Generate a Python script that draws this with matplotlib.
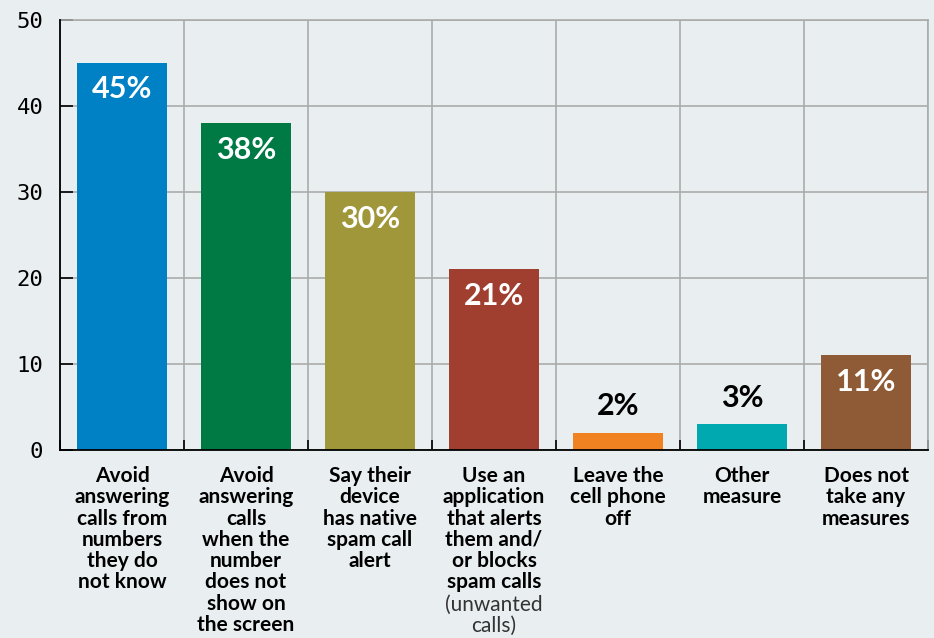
import matplotlib.pyplot as plt
import matplotlib.transforms as mtransforms

# Data
CATEGORIES = [
    "Avoid\nanswering\ncalls from\nnumbers\nthey do\nnot know",
    "Avoid\nanswering\ncalls\nwhen the\nnumber\ndoes not\nshow on\nthe screen",
    "Say their\ndevice\nhas native\nspam call\nalert",
    "Use an\napplication\nthat alerts\nthem and/\nor blocks\nspam calls",
    "Leave the\ncell phone\noff",
    "Other\nmeasure",
    "Does not\ntake any\nmeasures",
]
NOTES = ["", "", "", "(unwanted\ncalls)", "", "", ""]
VALUES = [45, 38, 30, 21, 2, 3, 11]
COLORS = ["#0080C5", "#007A45", "#A0963A", "#A03F30", "#F08222", "#00A8B0", "#8F5B36"]
Y_TICKS = [0, 10, 20, 30, 40, 50]

BG = "#E9EEF1"
GRID = "#ABABAB"
FONT = "Lato"
LINE_PT = 15.3   # height of one label line, in points

W, H = 934, 638
fig = plt.figure(figsize=(W / 100, H / 100), dpi=100, facecolor=BG)
ax = fig.add_axes([60 / W, (H - 450) / H, 868 / W, 430 / H], facecolor=BG)

x = list(range(len(VALUES)))
ax.bar(x, VALUES, width=0.726, color=COLORS, zorder=3)

ax.set_xlim(-0.5, len(VALUES) - 0.5)
ax.set_ylim(0, 50)
ax.set_yticks(Y_TICKS)
ax.set_yticklabels([str(t) for t in Y_TICKS], family="DejaVu Sans Mono", fontsize=16)
ax.set_xticks([i - 0.5 for i in range(len(VALUES) + 1)])
ax.set_xticklabels([])
ax.tick_params(axis="y", direction="in", length=9.5, width=1.2, pad=12, colors="black")
ax.tick_params(axis="x", direction="in", length=7, width=1.2)

ax.grid(True, color=GRID, lw=1.2, zorder=0)
for s in ["top", "right"]:
    ax.spines[s].set_color(GRID)
    ax.spines[s].set_linewidth(1.2)
for s in ["left", "bottom"]:
    ax.spines[s].set_color("black")
    ax.spines[s].set_linewidth(1.3)
    ax.spines[s].set_zorder(4)

# value labels
for xi, v in zip(x, VALUES):
    if v >= 10:
        ax.annotate(f"{v}%", (xi, v), xytext=(0, -9), textcoords="offset points",
                    ha="center", va="top", color="white", fontsize=22,
                    family=FONT, weight="bold", zorder=5)
    else:
        ax.annotate(f"{v}%", (xi, v), xytext=(0, 9), textcoords="offset points",
                    ha="center", va="bottom", color="black", fontsize=22,
                    family=FONT, weight="bold", zorder=5)

# category labels below the axis
trans = mtransforms.blended_transform_factory(ax.transData, ax.transAxes)
for xi, cat, note in zip(x, CATEGORIES, NOTES):
    ax.text(xi, -16 / 430, cat, transform=trans, ha="center", va="top",
            fontsize=15, family=FONT, weight="bold", linespacing=1.08)
    if note:
        n_lines = cat.count("\n") + 1
        ax.annotate(note, (xi, -16 / 430), xycoords=trans,
                    xytext=(0, -LINE_PT * n_lines - 1), textcoords="offset points",
                    ha="center", va="top", fontsize=15, family=FONT,
                    color="#333333", linespacing=1.08)

fig.savefig("out.png", dpi=100, facecolor=BG)
